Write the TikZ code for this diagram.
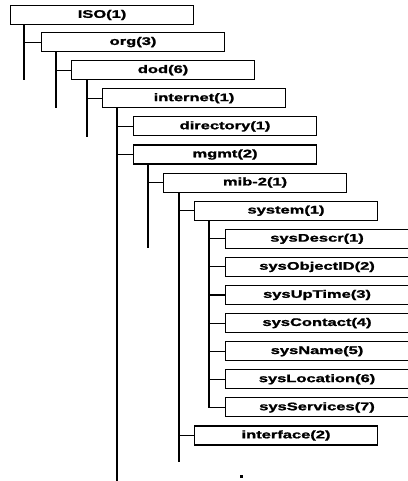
\documentclass[tikz,border=0pt]{standalone}
\usepackage{fontspec}
\setmainfont{Liberation Sans}
\newfontfamily\heavyfont{Liberation Sans Bold}[FakeBold=1.3]
\usepackage{graphicx}
\tikzset{
  oid/.style={draw, line width=1.1pt, minimum width=183pt, minimum height=19pt,
    anchor=west, inner sep=0pt, font=\heavyfont\fontsize{11}{12}\selectfont},
  tline/.style={line width=1.1pt},
}
\newcommand\wide[1]{\scalebox{1.5}[1]{#1}}
\begin{document}
\begin{tikzpicture}[x=1pt,y=1pt]
\useasboundingbox (0,0) rectangle (407,481);
\node[oid] (iso)       at (10,466)    {\wide{ISO(1)}};
\node[oid] (org)       at (41,438.9)  {\wide{org(3)}};
\node[oid] (dod)       at (71,410.8)  {\wide{dod(6)}};
\node[oid] (internet)  at (102,382.7) {\wide{internet(1)}};
\node[oid] (directory) at (133,354.6) {\wide{directory(1)}};
\node[oid] (mgmt)      at (133,326.5) {\wide{mgmt(2)}};
\node[oid] (mib)       at (163,298.4) {\wide{mib-2(1)}};
\node[oid] (system)    at (194,270.3) {\wide{system(1)}};
\node[oid] (descr)     at (225,242.2) {\wide{sysDescr(1)}};
\node[oid] (objid)     at (225,214.1) {\wide{sysObjectID(2)}};
\node[oid] (uptime)    at (225,186)   {\wide{sysUpTime(3)}};
\node[oid] (contact)   at (225,157.9) {\wide{sysContact(4)}};
\node[oid] (sname)     at (225,129.8) {\wide{sysName(5)}};
\node[oid] (location)  at (225,101.7) {\wide{sysLocation(6)}};
\node[oid] (services)  at (225,73.6)  {\wide{sysServices(7)}};
\node[oid] (interface) at (194,45.5)  {\wide{interface(2)}};
% trunk end points
\coordinate (isoEnd) at (24,401);
\coordinate (orgEnd) at (56,373);
\coordinate (dodEnd) at (87,344);
\coordinate (intEnd) at (117,0);
\coordinate (mgmtEnd) at (148,233);
\coordinate (mibEnd) at (179,19);
% trunks
\draw[tline] ([xshift=14pt]iso.south west) -- (isoEnd);
\draw[tline] ([xshift=15pt]org.south west) -- (orgEnd);
\draw[tline] ([xshift=16pt]dod.south west) -- (dodEnd);
\draw[tline] ([xshift=15pt]internet.south west) -- (intEnd);
\draw[tline] ([xshift=15pt]mgmt.south west) -- (mgmtEnd);
\draw[tline] ([xshift=16pt]mib.south west) -- (mibEnd);
\draw[tline] ([xshift=15pt]system.south west) |- (services.west);
% branches
\draw[tline] (isoEnd |- org.west) -- (org.west);
\draw[tline] (orgEnd |- dod.west) -- (dod.west);
\draw[tline] (dodEnd |- internet.west) -- (internet.west);
\draw[tline] (intEnd |- directory.west) -- (directory.west);
\draw[tline] (intEnd |- mgmt.west) -- (mgmt.west);
\draw[tline] (mgmtEnd |- mib.west) -- (mib.west);
\draw[tline] (mibEnd |- system.west) -- (system.west);
\draw[tline] (mibEnd |- interface.west) -- (interface.west);
\foreach \n in {descr,objid,uptime,contact,sname,location}
  \draw[tline] ([xshift=15pt]system.south west |- \n.west) -- (\n.west);
% stray mark
\fill (240,3.2) rectangle (242.5,5.5);
\end{tikzpicture}
\end{document}
